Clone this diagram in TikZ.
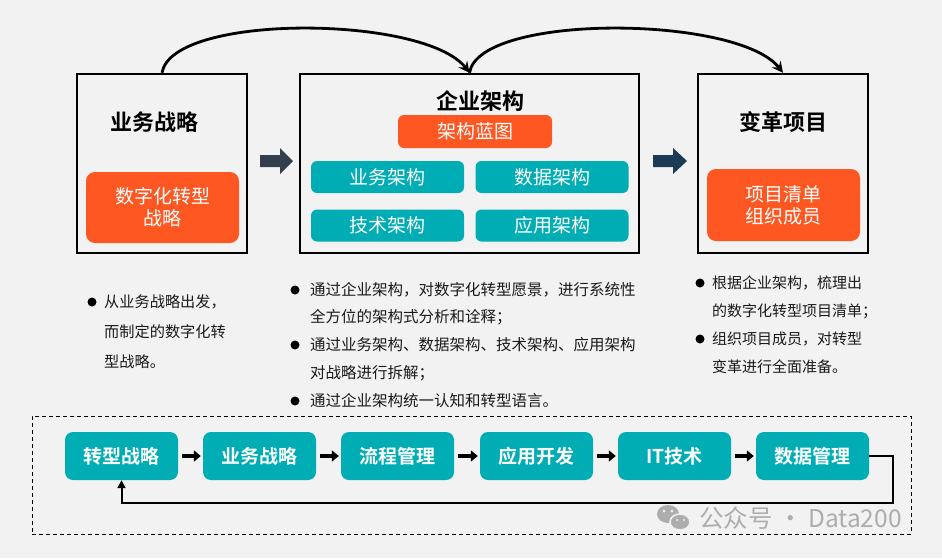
\documentclass[tikz,border=0pt]{standalone}
\usepackage{fontspec}
\setmainfont{Noto Sans CJK SC}[BoldFont={Noto Sans CJK SC Bold}]
\usetikzlibrary{arrows.meta,calc}
\definecolor{bgC}{HTML}{F2F2F2}
\definecolor{orangeC}{HTML}{FF5722}
\definecolor{tealC}{HTML}{00ADB5}
\definecolor{arrA}{HTML}{333F4C}
\definecolor{arrB}{HTML}{1B3A56}
\definecolor{wmC}{HTML}{ADADAD}
\definecolor{txtC}{HTML}{1A1A1A}
\tikzset{
  bigbox/.style={draw=black, line width=2.4pt, minimum width=170pt, minimum height=179pt, inner sep=0pt},
  ttl/.style={font=\bfseries\fontsize{22}{26}\selectfont, text=black, inner sep=0pt},
  obox/.style={fill=orangeC, rounded corners=9pt, text=white, align=center, inner sep=0pt,
               font=\fontsize{19}{22}\selectfont},
  tbox/.style={fill=tealC, rounded corners=6pt, text=white, inner sep=0pt,
               minimum width=153pt, minimum height=32pt, font=\fontsize{19}{22}\selectfont},
  fbox/.style={fill=tealC, rounded corners=8pt, text=white, inner sep=0pt,
               minimum width=113pt, minimum height=48pt, font=\bfseries\fontsize{19}{22}\selectfont},
  arc/.style={line width=2.8pt, -{Stealth[length=11pt,width=11pt,inset=4pt]}},
  farrow/.style={line width=4pt, -{Triangle[length=7pt,width=11pt]}, shorten <=4pt, shorten >=2pt},
  dotb/.style={circle, fill=black, minimum size=9pt, inner sep=0pt},
  para/.style={anchor=west, align=left, inner sep=0pt, text=txtC},
}
\begin{document}
\begin{tikzpicture}[x=1pt,y=-1pt]
\useasboundingbox (0,0) rectangle (942,558);
\fill[bgC] (0,0) rectangle (942,558);

% top boxes
\node[bigbox] (b1) at (162,163.5) {};
\node[bigbox, minimum width=339pt] (b2) at (469.5,163.5) {};
\node[bigbox] (b3) at (783,163.5) {};

\node[ttl] (t1) at (154,122) {业务战略};
\node[obox, minimum width=153pt, minimum height=71pt] (o1) at (162.5,207.5) {数字化转型\\战略};

\node[ttl] (t2) at (480,101) {企业架构};
\node[obox, rounded corners=6pt, minimum width=154pt, minimum height=33pt] (o2) at (475,131.5) {架构蓝图};
\node[tbox] (a1) at (387.5,177) {业务架构};
\node[tbox] (a2) at (552,177) {数据架构};
\node[tbox] (a3) at (387.5,225.5) {技术架构};
\node[tbox] (a4) at (552,225.5) {应用架构};

\node[ttl] (t3) at (783,122) {变革项目};
\node[obox, minimum width=153pt, minimum height=72pt] (o3) at (783.5,205) {项目清单\\组织成员};

% block arrows
\fill[arrA] (260,155) -- (280,155) -- (280,148) -- (293,161) -- (280,174) -- (280,167) -- (260,167) -- cycle;
\fill[arrB] (653,155) -- (673,155) -- (673,148) -- (687,161) -- (673,174) -- (673,167) -- (653,167) -- cycle;

% top arcs
\draw[arc] (b1.north) .. controls (172,13) and (425,15) .. (b2.north);
\draw[arc] (b2.north) .. controls (479,13) and (738,15) .. (b3.north);

% bullets and texts
\node[dotb] (d1) at (92,302) {};
\node[para, font=\fontsize{15.2}{30}\selectfont] (x1) at (104,332) {从业务战略出发，\\而制定的数字化转\\型战略。};

\node[dotb] (d2) at (295,290) {};
\node[para, font=\fontsize{15.5}{27.5}\selectfont] (x2) at (310,303.75) {通过企业架构，对数字化转型愿景，进行系统性\\全方位的架构式分析和诠释；};
\node[dotb] (d3) at (295,345) {};
\node[para, font=\fontsize{15.5}{28}\selectfont] (x3) at (310,359) {通过业务架构、数据架构、技术架构、应用架构\\对战略进行拆解；};
\node[dotb] (d4) at (295,401) {};
\node[para, font=\fontsize{15.5}{28}\selectfont] (x4) at (310,401) {通过企业架构统一认知和转型语言。};

\node[dotb] (d5) at (700,283) {};
\node[para, font=\fontsize{15}{28.5}\selectfont] (x5) at (712,297.5) {根据企业架构，梳理出\\的数字化转型项目清单；};
\node[dotb] (d6) at (700,339) {};
\node[para, font=\fontsize{15}{28}\selectfont] (x6) at (712,353) {组织项目成员，对转型\\变革进行全面准备。};

% bottom flow
\node[draw=black, line width=0.9pt, dash pattern=on 4pt off 3pt, minimum width=879pt, minimum height=118pt, inner sep=0pt] (frame) at (471.5,475) {};
\node[fbox] (f1) at (121.5,456) {转型战略};
\node[fbox] (f2) at (259.5,456) {业务战略};
\node[fbox] (f3) at (397.5,456) {流程管理};
\node[fbox] (f4) at (536.5,456) {应用开发};
\node[fbox] (f5) at (674.5,456) {IT技术};
\node[fbox] (f6) at (812.5,456) {数据管理};
\draw[farrow] (f1) -- (f2);
\draw[farrow] (f2) -- (f3);
\draw[farrow] (f3) -- (f4);
\draw[farrow] (f4) -- (f5);
\draw[farrow] (f5) -- (f6);
\draw[line width=2pt, -{Triangle[length=8pt,width=8pt]}] (f6.east) -- ++(24,0) |- ($(f1.south)+(0,23)$) -- (f1.south);

% watermark
\fill[wmC] (668,514) ellipse [x radius=11pt, y radius=9pt];
\fill[wmC, draw=bgC, line width=1.5pt] (680,522) ellipse [x radius=10pt, y radius=8pt];
\fill[bgC] (664,511) circle (1.5pt) (672,511) circle (1.5pt) (677,520) circle (1.2pt) (684,520) circle (1.2pt);
\node[anchor=west, text=wmC, inner sep=0pt, font=\fontsize{24.5}{28}\selectfont] (wm) at (699,518) {公众号 · Data200};
\end{tikzpicture}
\end{document}
